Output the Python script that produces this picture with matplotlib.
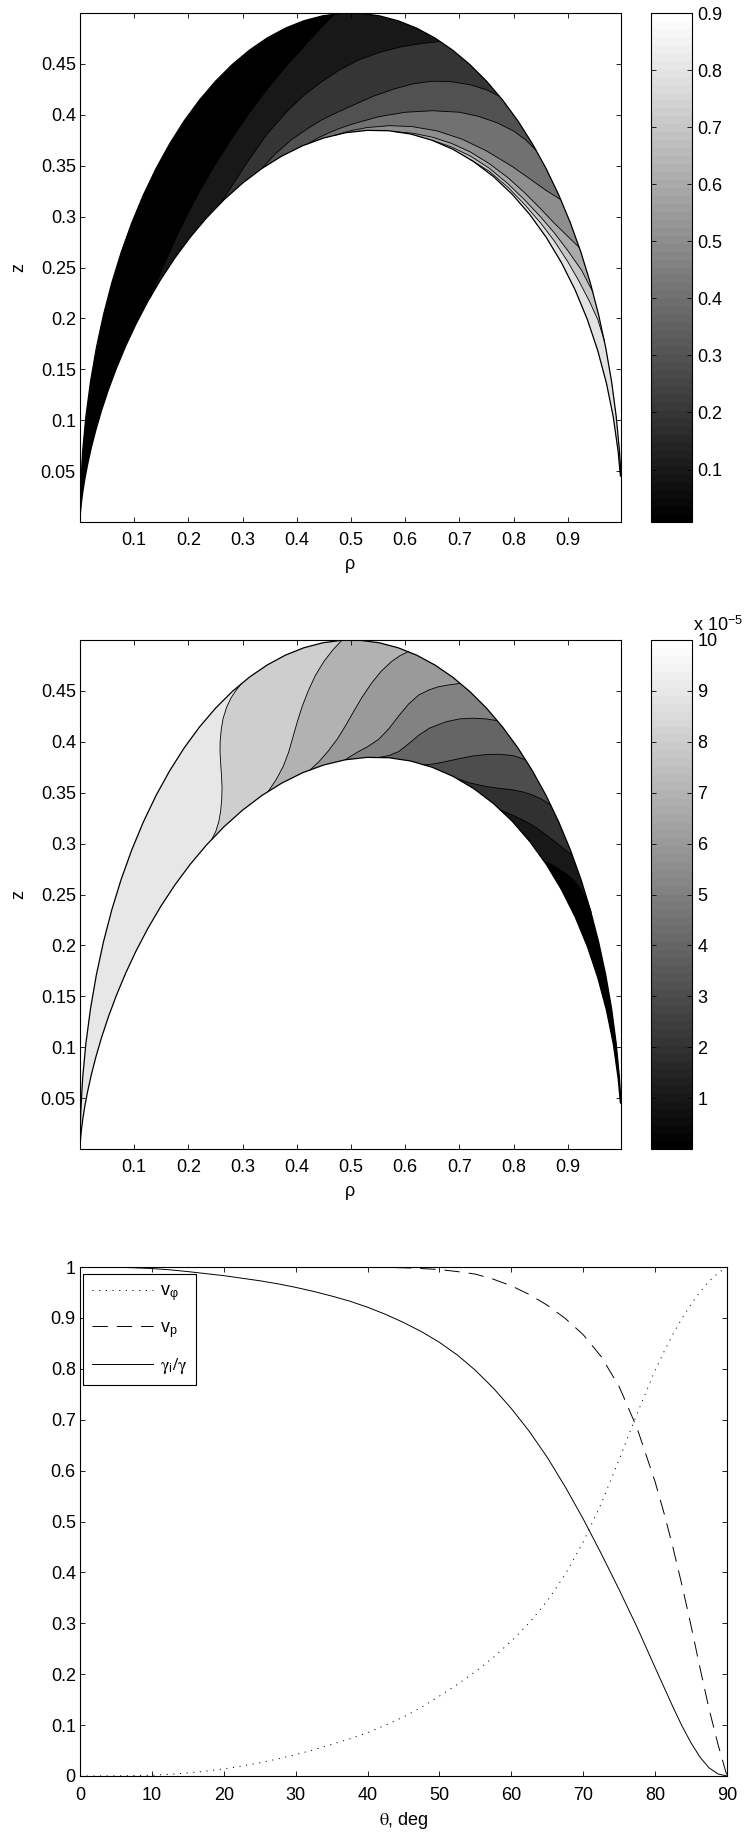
import numpy as np
import matplotlib
matplotlib.use("Agg")
import matplotlib.pyplot as plt
from matplotlib.patches import Polygon
from matplotlib.colors import Normalize
from matplotlib.cm import ScalarMappable

plt.rcParams['font.family'] = ['Liberation Sans', 'DejaVu Sans']
plt.rcParams['font.size'] = 13
plt.rcParams['mathtext.fontset'] = 'stix'
plt.rcParams['lines.scale_dashes'] = False

# boundary field lines in polar form: angle from the axis (deg) and radius
bound_theta = [0, 2, 4, 6, 8, 10, 12, 14, 16, 18, 20, 22, 24, 26, 28, 30, 32, 34, 36, 38,
               40, 42, 44, 46, 48, 50, 52, 54, 56, 58, 60, 62, 64, 66, 68, 70, 72, 74, 76,
               78, 80, 82, 84, 86, 87.4]
outer_r = [0.0, 0.0349, 0.0698, 0.1045, 0.1392, 0.1737, 0.2079, 0.2419, 0.2756, 0.3090,
           0.3420, 0.3746, 0.4067, 0.4384, 0.4695, 0.5000, 0.5299, 0.5592, 0.5878, 0.6157,
           0.6428, 0.6691, 0.6947, 0.7193, 0.7431, 0.7660, 0.7880, 0.8090, 0.8290, 0.8480,
           0.8660, 0.8829, 0.8988, 0.9135, 0.9272, 0.9397, 0.9511, 0.9613, 0.9703, 0.9781,
           0.9848, 0.9903, 0.9945, 0.9976, 0.9990]
inner_r = [0.0, 0.0012, 0.0049, 0.0109, 0.0194, 0.0302, 0.0432, 0.0585, 0.0760, 0.0955,
           0.1170, 0.1403, 0.1654, 0.1922, 0.2204, 0.2500, 0.2808, 0.3127, 0.3455, 0.3790,
           0.4132, 0.4477, 0.4826, 0.5174, 0.5523, 0.5868, 0.6210, 0.6545, 0.6873, 0.7192,
           0.7500, 0.7796, 0.8078, 0.8346, 0.8597, 0.8830, 0.9045, 0.9240, 0.9415, 0.9568,
           0.9698, 0.9806, 0.9891, 0.9951, 0.9979]

# first field: contour levels and their lines (inner -> outer boundary)
top_levels = [0.1, 0.2, 0.3, 0.4, 0.5, 0.6, 0.7, 0.8]
top_rho = [
    [0.130, 0.145, 0.161, 0.178, 0.196, 0.221, 0.248, 0.278, 0.310, 0.345, 0.384, 0.410, 0.435, 0.470],
    [0.260, 0.285, 0.310, 0.345, 0.384, 0.415, 0.446, 0.480, 0.515, 0.551, 0.590, 0.630, 0.665],
    [0.335, 0.360, 0.390, 0.420, 0.446, 0.475, 0.500, 0.540, 0.580, 0.615, 0.650, 0.685, 0.720, 0.750, 0.774],
    [0.420, 0.440, 0.460, 0.480, 0.500, 0.550, 0.600, 0.650, 0.700, 0.735, 0.770, 0.800, 0.822, 0.842],
    [0.470, 0.500, 0.530, 0.570, 0.612, 0.660, 0.705, 0.750, 0.798, 0.830, 0.859, 0.887],
    [0.580, 0.615, 0.650, 0.685, 0.720, 0.755, 0.790, 0.820, 0.850, 0.875, 0.900, 0.921],
    [0.650, 0.685, 0.720, 0.755, 0.790, 0.820, 0.850, 0.875, 0.900, 0.925, 0.946],
    [0.720, 0.755, 0.790, 0.820, 0.850, 0.875, 0.900, 0.920, 0.940, 0.955, 0.967],
]
top_z = [
    [0.2210, 0.240, 0.260, 0.280, 0.300, 0.325, 0.350, 0.375, 0.400, 0.425, 0.450, 0.465, 0.480, 0.4991],
    [0.3134, 0.334, 0.3545, 0.381, 0.4045, 0.420, 0.4325, 0.4445, 0.454, 0.461, 0.4665, 0.470, 0.472],
    [0.347, 0.3615, 0.3755, 0.3865, 0.395, 0.4025, 0.4085, 0.418, 0.4255, 0.4305, 0.433, 0.4325, 0.4295, 0.4245, 0.4182],
    [0.3714, 0.3775, 0.3825, 0.3868, 0.3905, 0.398, 0.4025, 0.404, 0.4025, 0.3985, 0.392, 0.384, 0.3755, 0.3647],
    [0.3798, 0.3845, 0.3875, 0.3893, 0.3885, 0.384, 0.376, 0.3645, 0.349, 0.337, 0.326, 0.3166],
    [0.3835, 0.3818, 0.378, 0.372, 0.3635, 0.352, 0.338, 0.3235, 0.3075, 0.2935, 0.2805, 0.2697],
    [0.3749, 0.3685, 0.3595, 0.3475, 0.332, 0.3165, 0.2995, 0.284, 0.2665, 0.2475, 0.226],
    [0.356, 0.3445, 0.3285, 0.312, 0.2935, 0.276, 0.2555, 0.237, 0.2165, 0.199, 0.1786],
]
top_clim = (0.008, 0.9)

# second field (x 1e-5): levels 9 ... 1 from left to right
mid_levels = [9e-5, 8e-5, 7e-5, 6e-5, 5e-5, 4e-5, 3e-5, 2e-5, 1e-5]
mid_rho = [
    [0.243, 0.2505, 0.256, 0.2595, 0.2615, 0.262, 0.261, 0.2595, 0.2583, 0.2585, 0.2605, 0.264, 0.2705, 0.279, 0.2885, 0.298],
    [0.347, 0.362, 0.375, 0.385, 0.393, 0.401, 0.410, 0.421, 0.434, 0.450, 0.466, 0.483],
    [0.424, 0.440, 0.458, 0.475, 0.490, 0.505, 0.520, 0.537, 0.555, 0.575, 0.590, 0.606],
    [0.489, 0.500, 0.514, 0.530, 0.551, 0.570, 0.588, 0.606, 0.625, 0.644, 0.662, 0.682, 0.702],
    [0.550, 0.570, 0.588, 0.606, 0.625, 0.645, 0.674, 0.700, 0.724, 0.748, 0.770],
    [0.635, 0.655, 0.674, 0.700, 0.724, 0.750, 0.773, 0.798, 0.822],
    [0.695, 0.720, 0.748, 0.773, 0.798, 0.817, 0.835, 0.852, 0.8685],
    [0.775, 0.800, 0.822, 0.842, 0.859, 0.877, 0.894, 0.9086],
    [0.855, 0.870, 0.885, 0.900, 0.913, 0.925, 0.935, 0.943],
]
mid_z = [
    [0.304, 0.312, 0.3215, 0.332, 0.344, 0.3555, 0.367, 0.3785, 0.390, 0.400, 0.412, 0.423, 0.434, 0.4435, 0.451, 0.4574],
    [0.3511, 0.363, 0.376, 0.390, 0.405, 0.420, 0.435, 0.450, 0.465, 0.479, 0.490, 0.4997],
    [0.3722, 0.380, 0.391, 0.403, 0.416, 0.430, 0.4435, 0.457, 0.469, 0.479, 0.4845, 0.4887],
    [0.3823, 0.386, 0.3905, 0.395, 0.4025, 0.413, 0.4255, 0.437, 0.446, 0.451, 0.4542, 0.456, 0.4574],
    [0.3845, 0.3865, 0.3905, 0.398, 0.4065, 0.4135, 0.4195, 0.4225, 0.4232, 0.4225, 0.4208],
    [0.3772, 0.3785, 0.3805, 0.3835, 0.386, 0.3875, 0.3878, 0.3865, 0.3825],
    [0.3639, 0.3595, 0.3562, 0.3543, 0.3528, 0.3508, 0.3477, 0.3435, 0.3379],
    [0.3331, 0.3275, 0.3218, 0.3155, 0.3088, 0.3015, 0.2945, 0.2882],
    [0.2834, 0.2795, 0.2745, 0.269, 0.263, 0.2545, 0.2445, 0.2326],
]
mid_clim = (0.0, 1e-4)

# velocity components along the line vs polar angle
theta = [0, 2.5, 5, 7.5, 10, 12.5, 15, 17.5, 20, 22.5, 25, 27.5, 30, 32.5, 35, 37.5, 40,
         42.5, 45, 47.5, 50, 52.5, 55, 57.5, 60, 62.5, 65, 67.5, 70, 72.5, 75, 77.5, 80,
         81.25, 82.5, 83.75, 85, 86.25, 87.5, 88.75, 90]
v_phi = [0.0, 0.0001, 0.0003, 0.0008, 0.0015, 0.0033, 0.006, 0.0095, 0.014, 0.0195, 0.026,
         0.0335, 0.042, 0.0515, 0.062, 0.073, 0.085, 0.100, 0.116, 0.135, 0.157, 0.180,
         0.205, 0.233, 0.265, 0.301, 0.344, 0.396, 0.460, 0.535, 0.622, 0.712, 0.797,
         0.834, 0.869, 0.899, 0.927, 0.951, 0.972, 0.988, 1.0]
v_p = [1.0, 1.0, 1.0, 1.0, 1.0, 1.0, 1.0, 1.0, 1.0, 1.0, 1.0, 1.0, 1.0, 1.0, 1.0, 1.0, 0.9995,
       0.999, 0.9985, 0.997, 0.995, 0.991, 0.986, 0.976, 0.963, 0.946, 0.925, 0.899, 0.867,
       0.824, 0.765, 0.683, 0.578, 0.516, 0.448, 0.374, 0.295, 0.212, 0.132, 0.062, 0.0]
gamma_ratio = [1.0, 0.9999, 0.9995, 0.9985, 0.997, 0.9945, 0.991, 0.987, 0.983, 0.978, 0.973,
               0.967, 0.960, 0.952, 0.943, 0.933, 0.921, 0.907, 0.891, 0.873, 0.852, 0.827,
               0.797, 0.762, 0.722, 0.677, 0.626, 0.568, 0.505, 0.437, 0.366, 0.292, 0.213,
               0.174, 0.135, 0.098, 0.065, 0.037, 0.016, 0.004, 0.0]

gray = plt.get_cmap('gray', 64)

W, H = 746, 1832
fig = plt.figure(figsize=(W / 100, H / 100), dpi=100)


def px_axes(x0, y0, x1, y1):
    return fig.add_axes([x0 / W, 1 - y1 / H, (x1 - x0) / W, (y1 - y0) / H])


def style_axes(ax):
    ax.tick_params(direction='in', top=True, right=True, length=3.6, width=0.6, labelsize=13)
    ax.tick_params(axis='x', pad=7)
    ax.tick_params(axis='y', pad=3)
    for s in ax.spines.values():
        s.set_linewidth(0.8)


def boundary(r):
    t = np.radians(bound_theta)
    r = np.array(r)
    return r * np.sin(t), r * np.cos(t)


def field_panel(ax, cax, lines_rho, lines_z, clim, base_value, fill_values):
    orho, oz = boundary(outer_r)
    irho, iz = boundary(inner_r)
    norm = Normalize(*clim)

    domain = Polygon(np.column_stack([np.r_[orho, irho[::-1]], np.r_[oz, iz[::-1]]]),
                     closed=True, fc=gray(norm(base_value)), ec='none')
    ax.add_patch(domain)
    # each contour line cuts off the rest of the region towards rho = 1
    for r, z, v in zip(lines_rho, lines_z, fill_values):
        r, z = np.array(r), np.array(z)
        ko = orho > r[-1]
        ki = irho > r[0]
        pts = np.column_stack([np.r_[r, orho[ko], irho[ki][::-1]],
                               np.r_[z, oz[ko], iz[ki][::-1]]])
        p = Polygon(pts, closed=True, fc=gray(norm(v)), ec='none')
        ax.add_patch(p)
        p.set_clip_path(domain)
    for r, z in zip(lines_rho, lines_z):
        ax.plot(r, z, color='k', lw=0.6)
    ax.plot(orho, oz, color='k', lw=0.9)
    ax.plot(irho, iz, color='k', lw=0.9)

    ax.set_xlim(0, orho.max())
    ax.set_ylim(0, 0.5)
    ax.set_xticks(np.arange(1, 10) / 10)
    ax.set_xticklabels(['%g' % (k / 10) for k in range(1, 10)])
    ax.set_yticks(np.arange(1, 10) * 0.05)
    ax.set_yticklabels(['%g' % (k * 0.05) for k in range(1, 10)])
    ax.set_xlabel('ρ', labelpad=5)
    ax.set_ylabel('z', labelpad=10)
    style_axes(ax)

    cb = fig.colorbar(ScalarMappable(norm=norm, cmap=gray), cax=cax)
    cb.outline.set_linewidth(0.8)
    cax.tick_params(direction='in', left=True, right=True, length=3.6, width=0.6,
                    pad=4, labelsize=13)
    return cb


# top panel
ax1 = px_axes(80, 13, 621, 522)
cax1 = px_axes(651, 13, 692, 522)
cb1 = field_panel(ax1, cax1, top_rho, top_z, top_clim, top_clim[0], top_levels)
cb1.set_ticks(np.arange(1, 10) / 10)
cb1.set_ticklabels(['%g' % (k / 10) for k in range(1, 10)])

# middle panel
ax2 = px_axes(80, 640, 621, 1149)
cax2 = px_axes(651, 640, 692, 1149)
mid_fill = mid_levels[1:] + [mid_clim[0]]
cb2 = field_panel(ax2, cax2, mid_rho, mid_z, mid_clim, mid_levels[0], mid_fill)
cb2.set_ticks(np.arange(1, 11) * 1e-5)
cb2.set_ticklabels([str(k) for k in range(1, 11)])
fig.text(693 / W, 1 - 625 / H, 'x 10$^{\\mathregular{-5}}$', ha='left', va='center', fontsize=13)

# bottom panel
ax3 = px_axes(80, 1267, 727, 1776)
ax3.plot(theta, v_phi, color='k', lw=0.7, linestyle=(0, (0.8, 4)), label='v$_\\mathregular{φ}$')
ax3.plot(theta, v_p, color='k', lw=0.7, linestyle=(0, (11, 6.5)), label='v$_\\mathregular{p}$')
ax3.plot(theta, gamma_ratio, color='k', lw=0.7,
         label='$\\mathrm{\\gamma}_\\mathregular{i}/\\mathrm{\\gamma}$')
ax3.set_xlim(0, 90)
ax3.set_ylim(0, 1)
ax3.set_xticks(range(0, 91, 10))
ax3.set_yticks(np.arange(11) / 10)
ax3.set_yticklabels(['%g' % (k / 10) for k in range(11)])
ax3.set_xlabel('$\\mathrm{\\theta}$, deg', labelpad=4)
style_axes(ax3)
ax3.tick_params(axis='x', pad=8)
leg = ax3.legend(loc='upper left', bbox_to_anchor=(3 / 647, 1 - 7 / 509), borderaxespad=0,
                 fancybox=False, edgecolor='k', framealpha=1, handlelength=3.4,
                 handletextpad=0.35, labelspacing=0.9, borderpad=0.5, fontsize=13)
leg.get_frame().set_linewidth(0.8)

fig.savefig('out.png', dpi=100)
